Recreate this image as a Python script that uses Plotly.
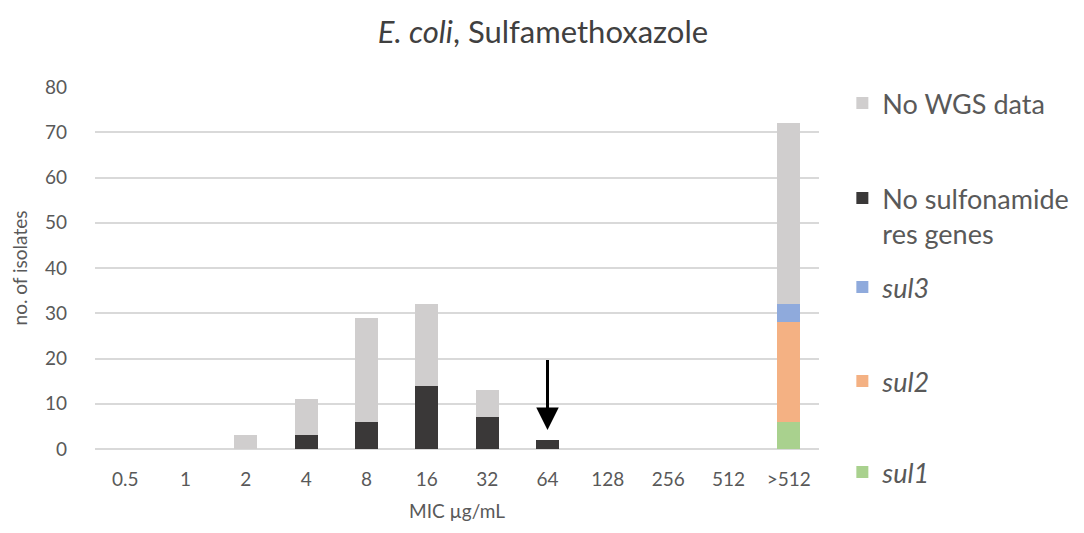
import plotly.graph_objects as go

mic = ["0.5", "1", "2", "4", "8", "16", "32", "64", "128", "256", "512", ">512"]
sul1 = [0, 0, 0, 0, 0, 0, 0, 0, 0, 0, 0, 6]
sul2 = [0, 0, 0, 0, 0, 0, 0, 0, 0, 0, 0, 22]
sul3 = [0, 0, 0, 0, 0, 0, 0, 0, 0, 0, 0, 4]
no_res_genes = [0, 0, 0, 3, 6, 14, 7, 2, 0, 0, 0, 0]
no_wgs = [0, 0, 3, 8, 23, 18, 6, 0, 0, 0, 0, 40]

font = "Lato"
txt = "#595959"

fig = go.Figure()
# stacked bottom to top, each series gets its own legend box so the
# spacing down the right side can follow the original
series = [
    ("<i>sul1</i>", sul1, "#A9D18E", "legend5", 462),
    ("<i>sul2</i>", sul2, "#F4B183", "legend4", 371),
    ("<i>sul3</i>", sul3, "#8FAADC", "legend3", 277),
    ("No sulfonamide<br>res genes", no_res_genes, "#3A3838", "legend2", 188),
    ("No WGS data", no_wgs, "#D0CECE", "legend", 93),
]
legends = {}
for name, vals, col, leg, ypx in series:
    fig.add_trace(go.Bar(
        x=mic, y=vals, name=name, legend=leg, showlegend=True,
        marker=dict(color=col, line=dict(width=0)),
    ))
    legends[leg] = dict(
        xref="container", yref="container", x=0.7697, y=1 - (ypx - 22) / 533,
        xanchor="left", yanchor="top", valign="top",
        font=dict(size=27, color=txt), bgcolor="rgba(0,0,0,0)",
    )

# arrow pointing at the 64 bar
fig.add_annotation(
    x=mic.index("64"), y=4.2, ax=0, ay=20, ayref="y", xref="x", yref="y",
    text="", showarrow=True, arrowhead=2, arrowsize=1.5, arrowwidth=3,
    arrowcolor="black",
)

fig.update_layout(
    width=1084, height=533,
    barmode="stack", bargap=0.62, showlegend=True,
    paper_bgcolor="white", plot_bgcolor="white",
    margin=dict(l=78, r=273, t=79, b=92),
    font=dict(family=font, color=txt, size=19),
    title=dict(text="<i>E. coli</i>, Sulfamethoxazole", x=0.4935, xref="container",
               xanchor="center", y=0.955, yanchor="middle",
               font=dict(size=31, color="#404040")),
    xaxis=dict(type="category", range=[-0.5, len(mic) - 0.5],
               showgrid=False, showline=False, ticks="",
               ticklabelstandoff=17, tickangle=0,
               tickfont=dict(size=19, color=txt),
               title=dict(text="MIC µg/mL", font=dict(size=19, color=txt), standoff=15)),
    yaxis=dict(range=[0, 80], dtick=10, showgrid=True, gridcolor="#D9D9D9", gridwidth=1.5,
               zeroline=True, zerolinecolor="#D9D9D9", zerolinewidth=1.5,
               showline=False, ticks="", ticklabelstandoff=27,
               tickfont=dict(size=19, color=txt),
               title=dict(text="no. of isolates", font=dict(size=19, color=txt), standoff=12)),
    **legends,
)

fig.write_html("out.html")
